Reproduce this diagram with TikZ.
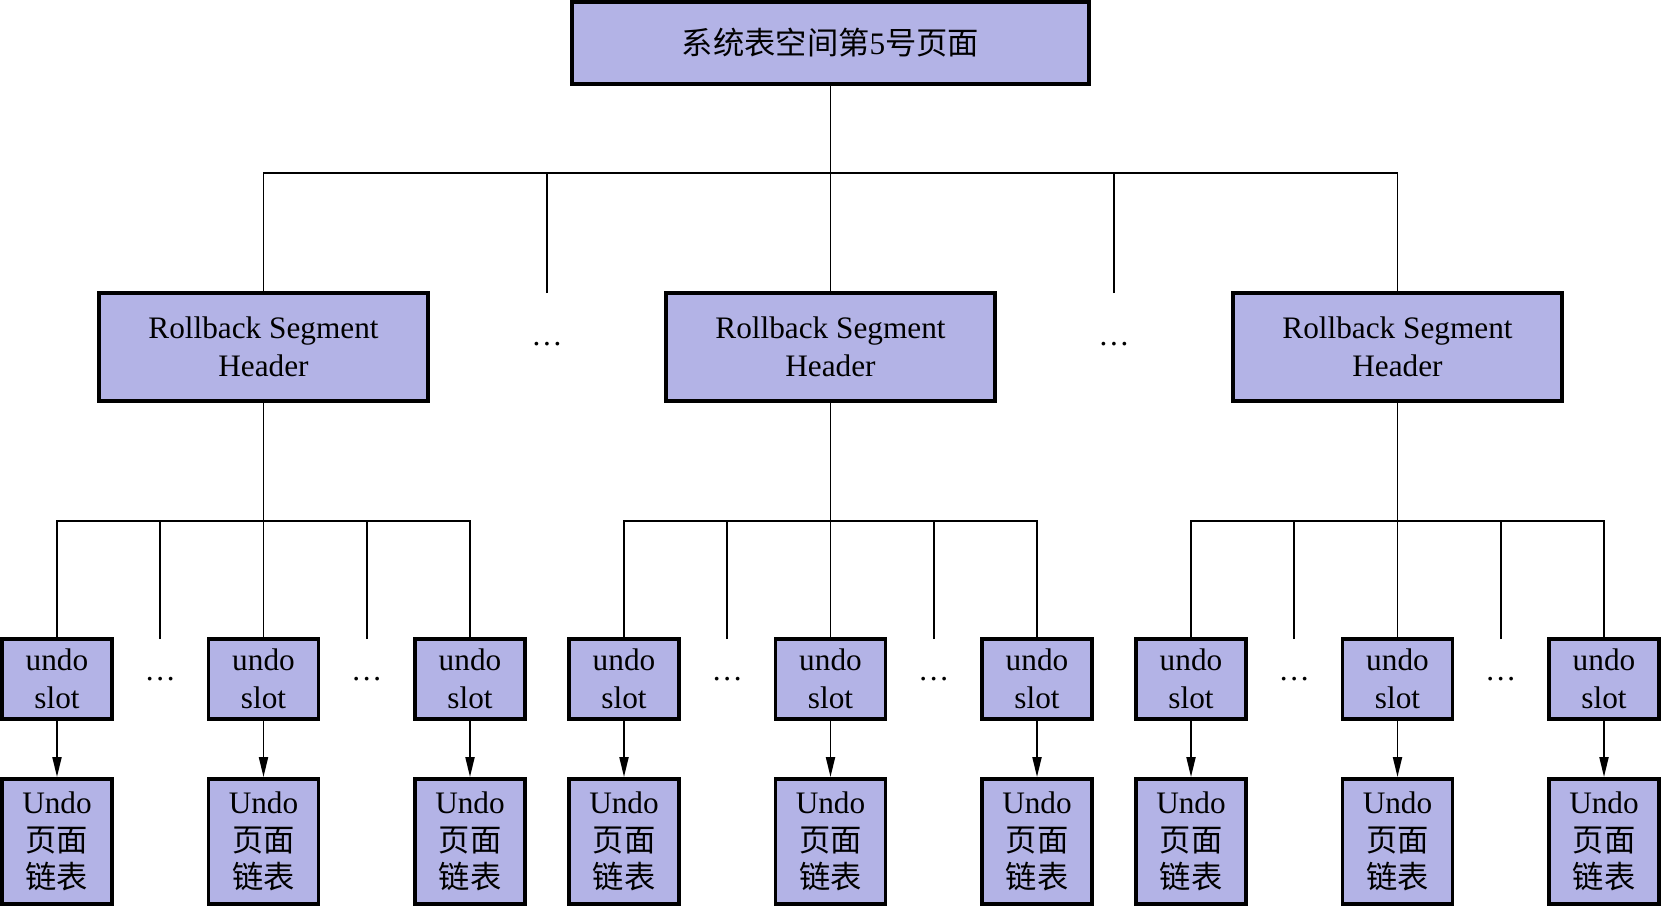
\documentclass[tikz,border=0pt]{standalone}
\usepackage{fontspec}
\setmainfont{Liberation Serif}
\newfontfamily\cjk{Noto Sans CJK SC}
\usetikzlibrary{arrows.meta}
\definecolor{boxfill}{HTML}{B3B3E6}
\newcommand{\zhtxt}[1]{{\cjk #1}}

\begin{document}
\begin{tikzpicture}[x=0.02cm, y=-0.02cm,
    box/.style={draw=black, line width=2.2pt, fill=boxfill, align=center, inner sep=0pt,
      font=\fontsize{17.8}{21.3}\selectfont},
    rootbox/.style={box, minimum width=10.34cm, minimum height=1.64cm},
    segbox/.style={box, minimum width=6.58cm, minimum height=2.16cm},
    slotbox/.style={box, minimum width=2.2cm, minimum height=1.6cm},
    pagebox/.style={box, minimum width=2.2cm, minimum height=2.5cm},
    link/.style={line width=1.1pt},
    arr/.style={link, -{Triangle[length=0.4cm,width=0.18cm]}},
    gapdots/.style={inner sep=0pt, font=\fontsize{17.8}{21.3}\selectfont}]
  \useasboundingbox (0,0) rectangle (1661,906);

  % Root page
  \node[rootbox] (root) at (830.5,43) {\zhtxt{系统表空间第}5\zhtxt{号页面}};

  % Rollback segment headers
  \node[segbox] (seg1) at (263.5,347) {Rollback Segment\\Header};
  \node[segbox] (seg2) at (830.5,347) {Rollback Segment\\Header};
  \node[segbox] (seg3) at (1397.5,347) {Rollback Segment\\Header};
  \node[gapdots] (segdots1) at (547,344) {\ldots};
  \node[gapdots] (segdots2) at (1114,344) {\ldots};

  \coordinate (rootbus) at (830.5,173);
  \coordinate (seggap1) at (547,293);
  \coordinate (seggap2) at (1114,293);
  \draw[link] (root) -- (seg2);
  \draw[link] (seg1.north) |- (rootbus) -| (seg3.north);
  \draw[link] (seggap1) -- (seggap1 |- rootbus);
  \draw[link] (seggap2) -- (seggap2 |- rootbus);

  % Group 1
  \node[slotbox] (slot11) at (57,679) {undo\\slot};
  \node[slotbox] (slot12) at (263.5,679) {undo\\slot};
  \node[slotbox] (slot13) at (470,679) {undo\\slot};
  \node[gapdots] (slotdots11) at (160.25,679) {\ldots};
  \node[gapdots] (slotdots12) at (366.75,679) {\ldots};
  \node[pagebox] (page11) at (57,841.5) {Undo\\\zhtxt{页面}\\\zhtxt{链表}};
  \node[pagebox] (page12) at (263.5,841.5) {Undo\\\zhtxt{页面}\\\zhtxt{链表}};
  \node[pagebox] (page13) at (470,841.5) {Undo\\\zhtxt{页面}\\\zhtxt{链表}};
  \coordinate (bus1) at (263.5,521);
  \coordinate (gap11) at (160.25,639);
  \coordinate (gap12) at (366.75,639);
  \draw[link] (seg1) -- (slot12);
  \draw[link] (slot11.north) |- (bus1) -| (slot13.north);
  \draw[link] (gap11) -- (gap11 |- bus1);
  \draw[link] (gap12) -- (gap12 |- bus1);
  \draw[arr] (slot11) -- (page11);
  \draw[arr] (slot12) -- (page12);
  \draw[arr] (slot13) -- (page13);

  % Group 2
  \node[slotbox] (slot21) at (624,679) {undo\\slot};
  \node[slotbox] (slot22) at (830.5,679) {undo\\slot};
  \node[slotbox] (slot23) at (1037,679) {undo\\slot};
  \node[gapdots] (slotdots21) at (727.25,679) {\ldots};
  \node[gapdots] (slotdots22) at (933.75,679) {\ldots};
  \node[pagebox] (page21) at (624,841.5) {Undo\\\zhtxt{页面}\\\zhtxt{链表}};
  \node[pagebox] (page22) at (830.5,841.5) {Undo\\\zhtxt{页面}\\\zhtxt{链表}};
  \node[pagebox] (page23) at (1037,841.5) {Undo\\\zhtxt{页面}\\\zhtxt{链表}};
  \coordinate (bus2) at (830.5,521);
  \coordinate (gap21) at (727.25,639);
  \coordinate (gap22) at (933.75,639);
  \draw[link] (seg2) -- (slot22);
  \draw[link] (slot21.north) |- (bus2) -| (slot23.north);
  \draw[link] (gap21) -- (gap21 |- bus2);
  \draw[link] (gap22) -- (gap22 |- bus2);
  \draw[arr] (slot21) -- (page21);
  \draw[arr] (slot22) -- (page22);
  \draw[arr] (slot23) -- (page23);

  % Group 3
  \node[slotbox] (slot31) at (1191,679) {undo\\slot};
  \node[slotbox] (slot32) at (1397.5,679) {undo\\slot};
  \node[slotbox] (slot33) at (1604,679) {undo\\slot};
  \node[gapdots] (slotdots31) at (1294.25,679) {\ldots};
  \node[gapdots] (slotdots32) at (1500.75,679) {\ldots};
  \node[pagebox] (page31) at (1191,841.5) {Undo\\\zhtxt{页面}\\\zhtxt{链表}};
  \node[pagebox] (page32) at (1397.5,841.5) {Undo\\\zhtxt{页面}\\\zhtxt{链表}};
  \node[pagebox] (page33) at (1604,841.5) {Undo\\\zhtxt{页面}\\\zhtxt{链表}};
  \coordinate (bus3) at (1397.5,521);
  \coordinate (gap31) at (1294.25,639);
  \coordinate (gap32) at (1500.75,639);
  \draw[link] (seg3) -- (slot32);
  \draw[link] (slot31.north) |- (bus3) -| (slot33.north);
  \draw[link] (gap31) -- (gap31 |- bus3);
  \draw[link] (gap32) -- (gap32 |- bus3);
  \draw[arr] (slot31) -- (page31);
  \draw[arr] (slot32) -- (page32);
  \draw[arr] (slot33) -- (page33);
\end{tikzpicture}
\end{document}
